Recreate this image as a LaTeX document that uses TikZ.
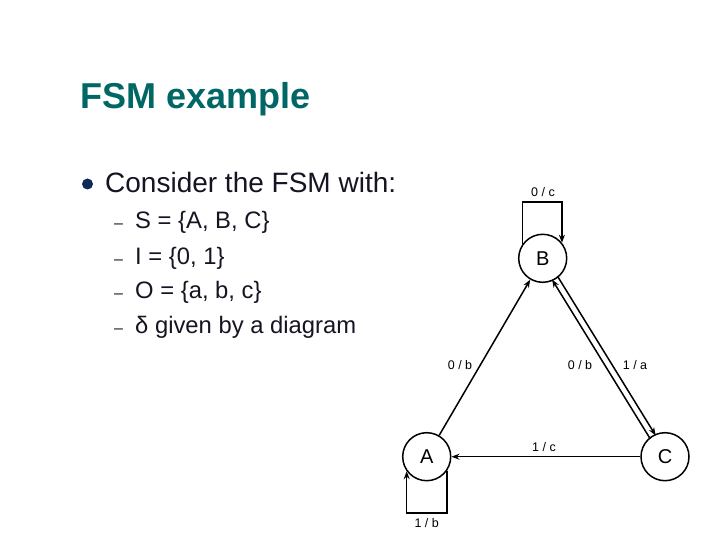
\documentclass[tikz,border=0pt]{standalone}
\usepackage{fontspec}
\setmainfont{Liberation Sans}
\usetikzlibrary{arrows.meta,calc}
\definecolor{titlecol}{RGB}{0,102,102}
\definecolor{bulletcol}{RGB}{16,40,90}
\definecolor{txtcol}{RGB}{20,20,35}
\tikzset{
  state/.style={circle,draw,line width=1.5pt,minimum size=48pt,inner sep=0pt,font=\fontsize{20}{20}\selectfont},
  edge/.style={line width=1.5pt,-{Stealth[length=8pt,width=6pt]}},
  elabel/.style={font=\fontsize{12.5}{12.5}\selectfont,inner sep=0pt},
  subitem/.style={anchor=base west,font=\fontsize{23.8}{23.8}\selectfont,text=txtcol,inner sep=0pt},
  dashmark/.style={anchor=base west,font=\fontsize{16}{16}\selectfont,text=txtcol,inner sep=0pt}
}
\begin{document}
\begin{tikzpicture}[x=1pt,y=-1pt]
\useasboundingbox (0,0) rectangle (720,540);
\fill[white] (0,0) rectangle (720,540);
% title
\node[anchor=base west,inner sep=0pt,text=titlecol,font=\fontsize{36}{36}\selectfont\bfseries] (title) at (80,108.5) {FSM example};
% bullet
\fill[bulletcol] (87.5,184) circle (5.5);
\node[anchor=base west,inner sep=0pt,text=txtcol,font=\fontsize{28}{28}\selectfont] (consider) at (105,192.5) {Consider the FSM with:};
\node[dashmark] (d1) at (114,229) {–};
\node[subitem] (s1) at (135,229) {S = \{A, B, C\}};
\node[dashmark] (d2) at (114,264) {–};
\node[subitem] (s2) at (135,264) {I = \{0, 1\}};
\node[dashmark] (d3) at (114,298) {–};
\node[subitem] (s3) at (135,298) {O = \{a, b, c\}};
\node[dashmark] (d4) at (114,333) {–};
\node[subitem] (s4) at (135,333) {δ given by a diagram};
% states
\node[state] (A) at (426.7,456.7) {A};
\node[state] (B) at (542.7,258.3) {B};
\node[state] (C) at (665,456.7) {C};
% edges
\draw[edge] (A) -- (B);
\draw[edge] (C) -- (A);
\draw[edge,shorten <=23pt,shorten >=23pt] ($(B.center)!3.2pt!90:(C.center)$) -- ($(C.center)!3.2pt!-90:(B.center)$);
\draw[edge,shorten <=23pt,shorten >=23pt] ($(C.center)!3.2pt!90:(B.center)$) -- ($(B.center)!3.2pt!-90:(C.center)$);
\draw[edge] (B.144) -- ++(0,-42) -| (B.39);
\draw[edge] (A.-35) -- ++(0,42) -| (A.216);
% labels
\node[elabel] (l1) at (543,191.7) {0 / c};
\node[elabel] (l2) at (460,365) {0 / b};
\node[elabel] (l3) at (580,365) {0 / b};
\node[elabel] (l4) at (635,365) {1 / a};
\node[elabel] (l5) at (544,446.7) {1 / c};
\node[elabel] (l6) at (426.7,523.3) {1 / b};
\end{tikzpicture}
\end{document}
